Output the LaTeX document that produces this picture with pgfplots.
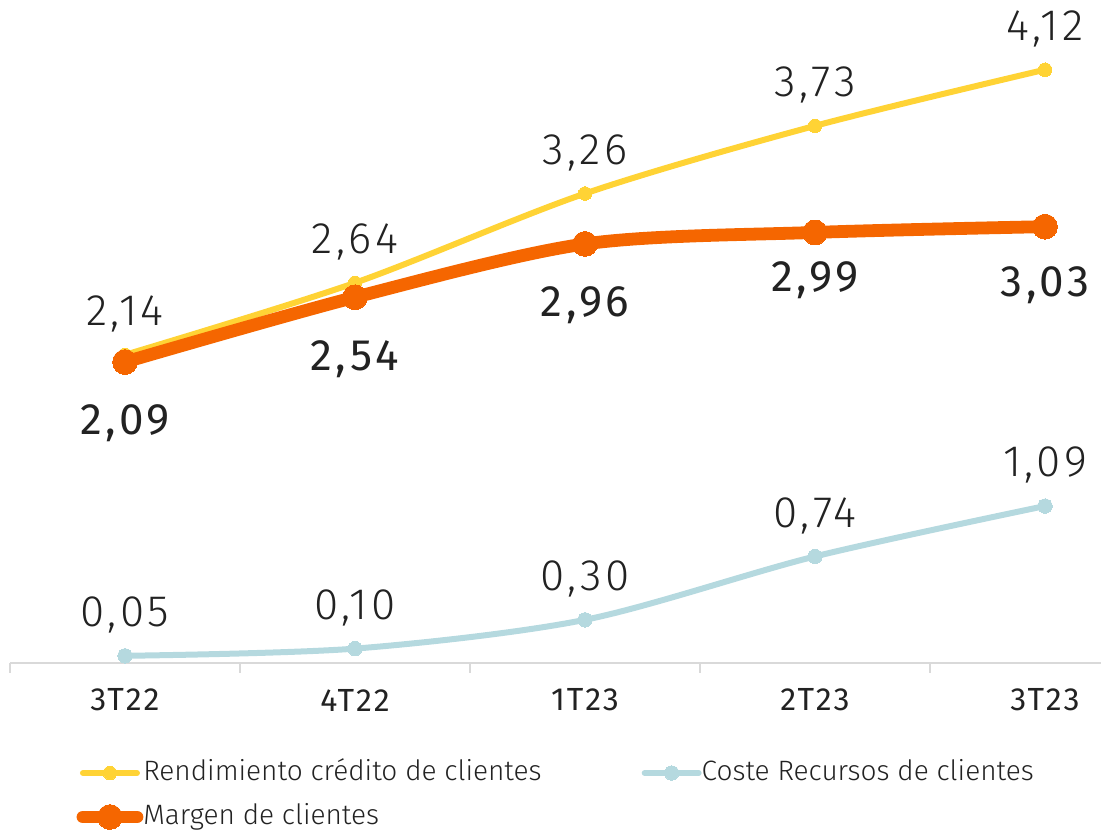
\documentclass[border=0pt]{standalone}
\usepackage{fontspec}
\setmainfont{Fira Sans Light}[BoldFont={Fira Sans}]
\newfontfamily\numfont{Fira Sans Light}[LetterSpace=8]
\newfontfamily\numbold{Fira Sans}[LetterSpace=8]
\newfontfamily\tickfont{Fira Sans}[LetterSpace=6]
\usepackage{pgfplots}
\usepackage{pgfplotstable}
\pgfplotsset{compat=1.18}
\definecolor{cy}{HTML}{FFD335}
\definecolor{co}{HTML}{F56600}
\definecolor{cc}{HTML}{B5D9DF}
\definecolor{axc}{HTML}{D9D9D9}
\definecolor{tx}{HTML}{222222}

\pgfplotstableread{
x y lab
0 2.14 2,14
1 2.64 2,64
2 3.26 3,26
3 3.73 3,73
4 4.12 4,12
}\rend
\pgfplotstableread{
x y lab
0 0.05 0,05
1 0.10 0,10
2 0.30 0,30
3 0.74 0,74
4 1.09 1,09
}\coste
\pgfplotstableread{
x y lab dy
0 2.09 2,09 -15.3
1 2.54 2,54 -15.4
2 2.91 2,96 -15.2
3 2.99 2,99 -12.0
4 3.03 3,03 -14.6
}\marg

\begin{document}
\begin{tikzpicture}
\begin{axis}[
  scale only axis,
  width=272.75pt, height=165.75pt,
  xmin=-0.5, xmax=4.2435, ymin=0, ymax=4.604,
  axis x line=bottom, axis y line=none,
  x axis line style={draw=axc, line width=0.5pt, -},
  xtick={0,1,2,3,4},
  xticklabels={3T22,4T22,1T23,2T23,3T23},
  major tick length=0pt,
  minor xtick={-0.5,0.5,1.5,2.5,3.5},
  minor tick length=2.4pt,
  xtick align=outside,
  minor tick style={draw=axc, line width=0.5pt},
  xticklabel style={font=\tickfont\fontsize{8}{9}\selectfont, text=tx, anchor=center, yshift=-9.25pt},
  clip=false,
  nodes near coords,
  point meta=explicit symbolic,
  nodes near coords align={center},
  every node near coord/.append style={font=\numfont\fontsize{11}{12}\selectfont, text=tx, anchor=center},
  legend columns=2,
  legend style={draw=none, fill=none, inner sep=0pt, outer sep=0pt,
    at={(0.061,-0.146)}, anchor=north west,
    font=\fontsize{7}{8}\selectfont, text=tx,
    nodes={inner sep=0pt, text height=5.2pt, text depth=1.4pt},
    row sep=4.4pt,
    /tikz/every even column/.append style={column sep=25pt}},
  legend cell align=left,
  legend image code/.code={
    \draw[#1, line cap=round] (0pt,0pt) -- (13.5pt,0pt);
    \draw[#1, only marks] plot coordinates {(6.75pt,0pt)};
  },
]
\addplot[cy, line width=1.5pt, smooth, tension=0.5, mark=*, mark size=1.7pt,
  mark options={fill=cy, draw=cy, line width=0pt, solid},
  every node near coord/.append style={yshift=10.2pt}]
  table[x=x, y=y, meta=lab] {\rend};
\addlegendentry{Rendimiento crédito de clientes}
\addplot[cc, line width=1.5pt, smooth, tension=0.5, mark=*, mark size=1.8pt,
  mark options={fill=cc, draw=cc, line width=0pt, solid},
  every node near coord/.append style={yshift=10.2pt}]
  table[x=x, y=y, meta=lab] {\coste};
\addlegendentry{Coste Recursos de clientes}
\addplot[co, line width=3.2pt, smooth, tension=0.5, mark=*, mark size=3.1pt,
  mark options={fill=co, draw=co, line width=0pt, solid},
  visualization depends on={\thisrow{dy}\as\dy},
  every node near coord/.append style={yshift=\dy pt, font=\numbold\fontsize{11}{12}\selectfont}]
  table[x=x, y=y, meta=lab] {\marg};
\addlegendentry{Margen de clientes}
\coordinate (bl) at (rel axis cs:0,0);
\coordinate (tr) at (rel axis cs:1,1);
\end{axis}
\pgfresetboundingbox
\path[use as bounding box] ([xshift=-2.5pt,yshift=-43.25pt]bl) rectangle (tr);
\end{tikzpicture}
\end{document}
